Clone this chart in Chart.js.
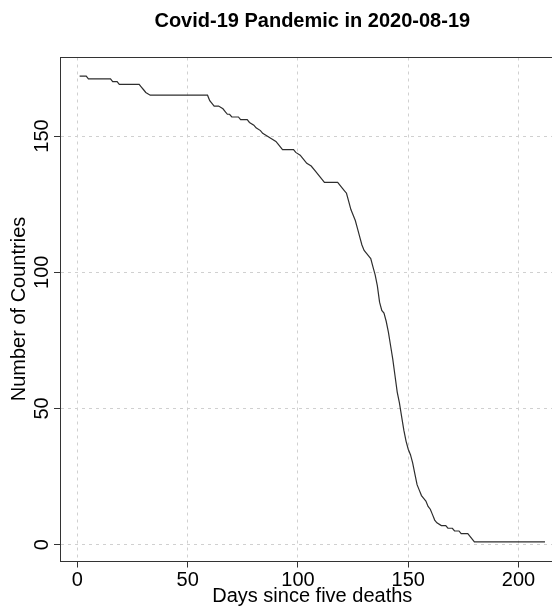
<!DOCTYPE html>
<html>
<head>
<meta charset="utf-8">
<script src="https://cdn.jsdelivr.net/npm/chart.js@4/dist/chart.umd.min.js"></script>
<style>
  html, body { margin: 0; padding: 0; background: #fff; overflow: hidden; }
  #wrap { width: 552px; height: 608px; overflow: hidden; position: relative; }
  canvas { display: block; }
</style>
</head>
<body>
<div id="wrap"><canvas id="chart" width="600" height="608"></canvas></div>
<script>
// Text
const chartTitle = 'Covid-19 Pandemic in 2020-08-19';
const xAxisTitle = 'Days since five deaths';
const yAxisTitle = 'Number of Countries';

// Tick values / labels
const xTicks = [0, 50, 100, 150, 200];
const yTicks = [0, 50, 100, 150];
const yTickLabels = ['0', '50', '100', '150'];

// Countries still counted N days after their fifth death (change points)
const days = [
  1, 4, 5, 15, 16, 18, 19, 28, 29, 30, 31, 33, 59, 60, 61, 62, 64, 66, 67, 68,
  69, 70, 73, 74, 77, 78, 80, 81, 83, 84, 86, 88, 90, 91, 92, 93, 98, 99, 101, 102,
  104, 106, 108, 110, 111, 112, 118, 120, 121, 122, 123, 124, 125, 126, 127, 128, 129, 130, 131, 132,
  133, 134, 135, 136, 137, 138, 139, 140, 141, 142, 143, 144, 145, 146, 147, 148, 149, 150, 151, 152,
  153, 154, 155, 156, 157, 158, 159, 160, 161, 162, 163, 165, 167, 168, 170, 171, 173, 174, 177, 178,
  179, 180, 212
];
const countries = [
  172, 172, 171, 171, 170, 170, 169, 169, 168, 167, 166, 165, 165, 163, 162, 161, 161, 160, 159, 158,
  158, 157, 157, 156, 156, 155, 154, 153, 152, 151, 150, 149, 148, 147, 146, 145, 145, 144, 143, 142,
  140, 139, 137, 135, 134, 133, 133, 131, 130, 129, 126, 123, 121, 119, 116, 113, 110, 108, 107, 106,
  105, 102, 99, 95, 89, 86, 85, 82, 78, 73, 68, 62, 56, 52, 47, 42, 38, 35, 33, 30,
  26, 22, 20, 18, 17, 16, 14, 13, 11, 9, 8, 7, 7, 6, 6, 5, 5, 4, 4, 3,
  2, 1, 1
];

// Axis ranges padded 4% beyond the data, like base R graphics
function padded(arr) {
  const lo = Math.min(...arr), hi = Math.max(...arr), d = (hi - lo) * 0.04;
  return [lo - d, hi + d];
}
const xRange = padded(days);
const yRange = padded(countries);

const FONT = "'Liberation Sans', Arial, Helvetica, sans-serif";
const FRAME = '#333333';

// Frame around the plot region
const framePlugin = {
  id: 'frame',
  afterDraw(chart) {
    const { ctx, chartArea: a } = chart;
    ctx.save();
    ctx.strokeStyle = FRAME;
    ctx.lineWidth = 1;
    ctx.strokeRect(Math.round(a.left) - 0.5, Math.round(a.top) - 0.5,
                   Math.round(a.right - a.left), Math.round(a.bottom - a.top) + 1);
    ctx.restore();
  }
};

// Y tick labels written parallel to the axis
const yLabelPlugin = {
  id: 'yLabels',
  afterDraw(chart) {
    const { ctx } = chart;
    const s = chart.scales.y;
    ctx.save();
    ctx.fillStyle = '#000';
    ctx.font = '20px ' + FONT;
    ctx.textAlign = 'center';
    ctx.textBaseline = 'middle';
    yTicks.forEach((v, i) => {
      const y = s.getPixelForValue(v);
      ctx.save();
      ctx.translate(42, y);
      ctx.rotate(-Math.PI / 2);
      ctx.fillText(yTickLabels[i], 0, 0);
      ctx.restore();
    });
    ctx.restore();
  }
};

const gridStyle = {
  color: '#d0d0d0',
  lineWidth: 1,
  drawTicks: true,
  tickLength: 7,
  tickColor: FRAME,
  tickWidth: 1,
  tickBorderDash: []
};

new Chart(document.getElementById('chart'), {
  type: 'line',
  data: {
    datasets: [{
      data: days.map((d, i) => ({ x: d, y: countries[i] })),
      borderColor: '#2e2e2e',
      borderWidth: 1.2,
      pointRadius: 0,
      tension: 0,
      fill: false
    }]
  },
  options: {
    responsive: false,
    animation: false,
    events: [],
    layout: { padding: { left: 0, right: 36.4, top: 0, bottom: 0 } },
    plugins: {
      legend: { display: false },
      tooltip: { enabled: false },
      title: {
        display: true,
        text: chartTitle,
        fullSize: false,
        color: '#000',
        font: { family: FONT, size: 20, weight: 'bold', lineHeight: 1.2 },
        padding: { top: 9.4, bottom: 24.1 }
      }
    },
    scales: {
      x: {
        type: 'linear',
        min: xRange[0],
        max: xRange[1],
        afterBuildTicks: s => { s.ticks = xTicks.map(v => ({ value: v })); },
        afterFit: s => { s.height = 47.5; },
        grid: gridStyle,
        border: { display: false, dash: [3, 4] },
        ticks: {
          color: '#000',
          padding: 1,
          maxRotation: 0,
          font: { family: FONT, size: 20 },
          callback: v => String(v)
        },
        title: {
          display: true,
          text: xAxisTitle,
          color: '#000',
          font: { family: FONT, size: 20, lineHeight: 1.2 },
          padding: { top: 0, bottom: 0 }
        }
      },
      y: {
        type: 'linear',
        min: yRange[0],
        max: yRange[1],
        afterBuildTicks: s => { s.ticks = yTicks.map(v => ({ value: v })); },
        afterFit: s => { s.width = 61; },
        grid: gridStyle,
        border: { display: false, dash: [3, 4] },
        ticks: { display: false },
        title: {
          display: true,
          text: yAxisTitle,
          color: '#000',
          font: { family: FONT, size: 20, lineHeight: 1.2 },
          padding: { top: 7.5, bottom: 0 }
        }
      }
    }
  },
  plugins: [framePlugin, yLabelPlugin]
});
</script>
</body>
</html>
